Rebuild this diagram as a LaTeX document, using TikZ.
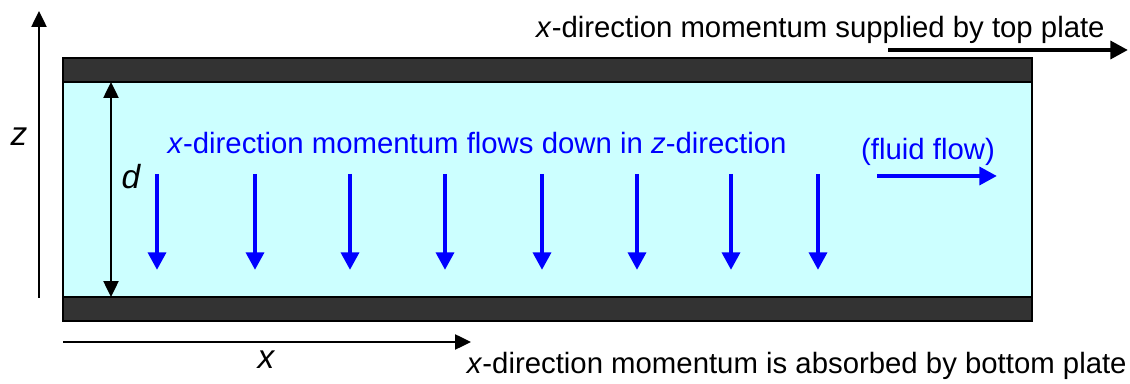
\documentclass[tikz,border=0pt]{standalone}
\usepackage{fontspec}
\setmainfont{Liberation Sans}
\usetikzlibrary{arrows.meta}
\definecolor{fluid}{RGB}{204,255,255}
\tikzset{
  plate/.style={draw=black, line width=1.4pt, fill=black!80},
  lbl/.style={font=\fontsize{16.7}{20}\selectfont, inner sep=0pt},
  varlbl/.style={font=\fontsize{19}{22}\selectfont\itshape, inner sep=0pt},
  flowarrow/.style={blue, line width=2.8pt, -{Triangle[width=10pt,length=10pt]}},
  axisarrow/.style={black, line width=1.2pt, -{Triangle[width=8.5pt,length=9pt]}}
}
\begin{document}
\begin{tikzpicture}[x=0.02cm, y=-0.02cm]
  \useasboundingbox (0,0) rectangle (1130,384);
  % fluid and plates
  \fill[fluid] (63,82) rectangle (1032,297);
  \draw[line width=1.4pt] (63,82) rectangle (1032,297);
  \draw[plate] (63,58) rectangle (1032,82);
  \draw[plate] (63,297) rectangle (1032,321);

  % axes
  \coordinate (zlo) at (39,298);
  \coordinate (zhi) at (39,11);
  \draw[axisarrow] (zlo) -- (zhi);
  \node[varlbl] (zlab) at (19,137) {z};
  \coordinate (xlo) at (63,342);
  \coordinate (xhi) at (471,342);
  \draw[axisarrow] (xlo) -- (xhi);
  \node[varlbl] (xlab) at (266,360) {x};

  % gap width
  \coordinate (dtop) at (111,82);
  \coordinate (dbot) at (111,297);
  \draw[black, line width=1.2pt, {Triangle[width=8.5pt,length=9pt]}-{Triangle[width=8.5pt,length=9pt]}] (dtop) -- (dbot);
  \node[varlbl] (dlab) at (131,177) {d};

  % momentum flux arrows
  \foreach \x [count=\i] in {157,255,350,445,542,637,731,818} {
    \coordinate (a\i) at (\x,174);
    \coordinate (b\i) at (\x,270);
    \draw[flowarrow] (a\i) -- (b\i);
  }
  \node[lbl, blue] (flux) at (477,143) {\textit{x}-direction momentum flows down in \textit{z}-direction};

  % fluid flow
  \node[lbl, blue] (fluid) at (928,152) {(fluid flow)};
  \coordinate (fa) at (877,176);
  \coordinate (fb) at (997,176);
  \draw[flowarrow] (fa) -- (fb);

  % top plate
  \node[lbl, anchor=east] (toptext) at (1105,30) {\textit{x}-direction momentum supplied by top plate};
  \coordinate (ta) at (888,50);
  \coordinate (tb) at (1128,50);
  \draw[black, line width=2.8pt, -{Triangle[width=10pt,length=10pt]}] (ta) -- (tb);

  % bottom plate
  \node[lbl, anchor=east] (bottext) at (1127,366) {\textit{x}-direction momentum is absorbed by bottom plate};
\end{tikzpicture}
\end{document}
